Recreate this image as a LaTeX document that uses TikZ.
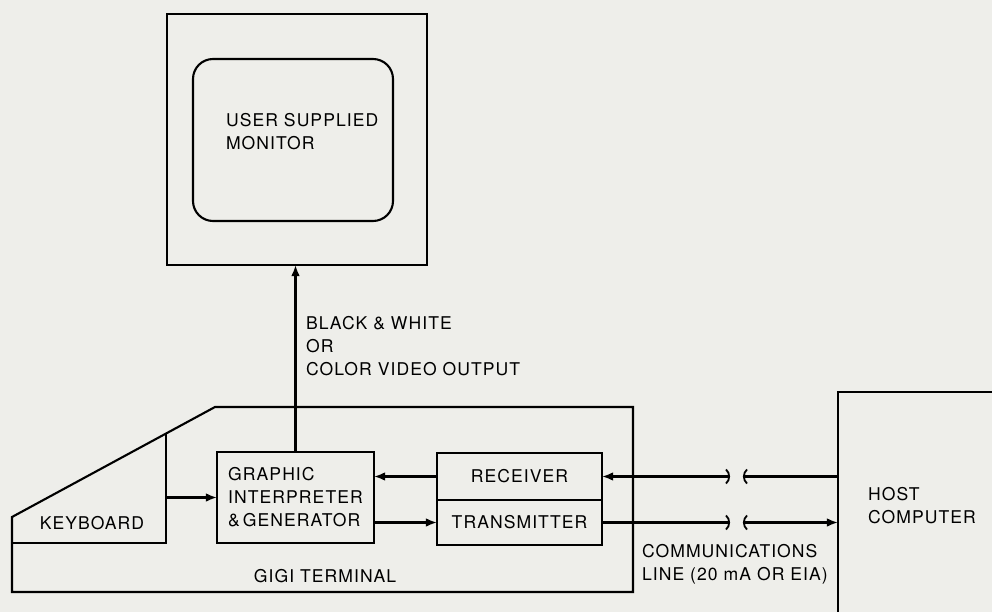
\documentclass[tikz,border=0pt]{standalone}
\usepackage{fontspec}
\setmainfont{TeX Gyre Heros}[LetterSpace=6]
\usepackage{tikz}
\usetikzlibrary{arrows.meta,positioning,calc}

\definecolor{paper}{RGB}{238,238,234}

\begin{document}
\begin{tikzpicture}[
    x=0.25mm, y=-0.25mm,
    font=\fontsize{12.5}{16.3}\selectfont,
    line width=1.5pt,
    >={Latex[length=2.8mm,width=2.2mm]},
    box/.style={rectangle, draw, align=left, inner sep=0pt, outer sep=0pt},
    lbl/.style={anchor=west, align=left, inner sep=0pt},
    cut/.style={line width=1.3pt}
]

% Paper
\useasboundingbox[fill=paper] (0,0) rectangle (992,612);
\clip (0,0) rectangle (992,612);

% Monitor
\node[box, minimum width=65mm, minimum height=62.75mm] (monitor) at (297,139.5) {};
\node[box, rounded corners=5mm, minimum width=50mm, minimum height=40.5mm] (screen) at (293,140) {};
\node[lbl] (screenlbl) at (225,132) {USER SUPPLIED\\MONITOR};

% Terminal
\draw (12,592) -- (12,517) -- (215,407) -- (633,407) -- (633,592) -- cycle;
\coordinate (kbtop) at (166,434);
\draw (12,543) -- (166,543) -- (kbtop);
\node[anchor=base, inner sep=0pt] (keyboard) at (92,529) {KEYBOARD};
\node[anchor=base, inner sep=0pt] (gigi) at (325,582) {GIGI TERMINAL};

\node[box, minimum width=39.25mm, minimum height=22.75mm] (graphic) at (295.5,497.5) {GRAPHIC\\INTERPRETER\\\&\,GENERATOR};
\node[box, align=center, minimum width=41.25mm, minimum height=11.75mm] (receiver) at (519.5,476.5) {RECEIVER};
\node[box, align=center, minimum width=41.25mm, minimum height=11.25mm, below=0pt of receiver] (transmitter) {TRANSMITTER};

% Host
\node[box, anchor=north west, minimum width=60mm, minimum height=70mm] (host) at (838,392) {};
\node[lbl] (hostlbl) at (867,506) {HOST\\COMPUTER};

% Labels
\node[lbl] (video) at (305,346) {BLACK \& WHITE\\OR\\COLOR VIDEO OUTPUT};
\node[lbl] (comm) at (641,564) {COMMUNICATIONS\\LINE (20 mA OR EIA)};

% Connectors
\draw[->] (graphic.north) -- (graphic.north |- monitor.south);
\coordinate (kbout) at (graphic.west -| kbtop);
\draw[->] (kbout) -- (graphic.west);
\draw[->] (receiver.west) -- (receiver.west -| graphic.east);
\draw[->] (transmitter.west -| graphic.east) -- (transmitter.west);

\path (receiver.east) ++(126,0) coordinate (cutrxl) ++(17,0) coordinate (cutrxr);
\path (transmitter.east) ++(126,0) coordinate (cuttxl) ++(17,0) coordinate (cuttxr);
\draw[->] (cutrxl) -- (receiver.east);
\draw (cutrxr) -- (cutrxr -| host.west);
\draw (transmitter.east) -- (cuttxl);
\draw[->] (cuttxr) -- (cuttxr -| host.west);

% Line breaks
\draw[cut] (cutrxl) ++(-2,-7) to[bend left=50] ++(0,14);
\draw[cut] (cutrxr) ++(2,-7) to[bend right=50] ++(0,14);
\draw[cut] (cuttxl) ++(-2,-7) to[bend left=50] ++(0,14);
\draw[cut] (cuttxr) ++(2,-7) to[bend right=50] ++(0,14);

\end{tikzpicture}
\end{document}
